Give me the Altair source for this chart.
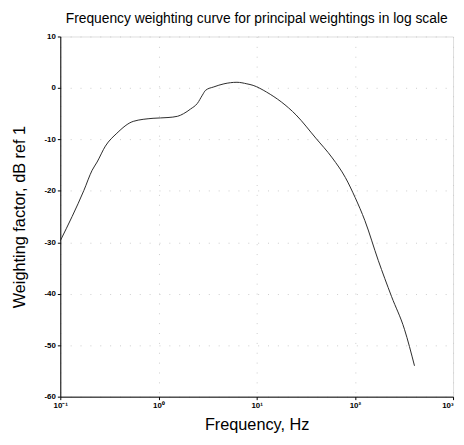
import altair as alt
import pandas as pd

# Frequency (Hz) and weighting factor (dB ref 1)
freq_hz = [0.1, 0.174, 0.211, 0.237, 0.288, 0.377, 0.553, 0.88, 1.25, 1.57,
           1.8, 2.12, 2.49, 2.8, 3.02, 3.66, 4.64, 6.3, 7.95, 9.2, 12.6,
           25.2, 40, 58.9, 80, 100.7, 126.6, 173, 236, 320, 405]
weight_db = [-29.7, -19.9, -16.0, -14.4, -11.3, -8.8, -6.5, -5.9, -5.75, -5.5,
             -5.0, -4.1, -3.0, -1.4, -0.45, 0.2, 0.8, 1.1, 0.8, 0.5, -0.8,
             -5.25, -9.75, -13.6, -17.4, -21.3, -25.8, -33.5, -40.5, -46.9, -54.0]

x_ticks = [0.1, 1, 10, 100, 1000]
y_ticks = [10, 0, -10, -20, -30, -40, -50, -60]

df = pd.DataFrame({"f": freq_hz, "w": weight_db})

FONT = "Liberation Sans"

chart = alt.Chart(df).mark_line(
    color="#2a2a2a", strokeWidth=1.0, interpolate="monotone"
).encode(
    x=alt.X(
        "f:Q",
        scale=alt.Scale(type="log", domain=[0.1, 1000], nice=False),
        axis=alt.Axis(
            values=x_ticks,
            title="Frequency,  Hz",
            labelExpr="['10\u207b\u00b9','10\u2070','10\u00b9','10\u00b2','10\u00b3'][round(log(datum.value)/LN10)+1]",
            labelAlign={"condition": {"test": "datum.value >= 1000", "value": "right"}, "value": "center"},
            labelFontSize=8,
            labelFontWeight="bold",
            labelPadding=2,
            tickSize=3,
            titleFontSize=16.5,
            titleFontWeight="normal",
            titlePadding=7,
            grid=True,
            gridDash=[1, 9],
            gridColor="#cccccc",
            domainColor="black",
            tickColor="black",
            labelColor="black",
            titleColor="black",
            labelFlush=False,
        ),
    ),
    y=alt.Y(
        "w:Q",
        scale=alt.Scale(domain=[-60, 10], nice=False),
        axis=alt.Axis(
            values=y_ticks,
            title="Weighting factor,  dB  ref  1",
            labelExpr="datum.value < 0 ? '-' + abs(datum.value) : '' + datum.value",
            labelFontSize=8,
            labelFontWeight="bold",
            labelPadding=2,
            tickSize=3,
            titleFontSize=16.5,
            titleFontWeight="normal",
            titlePadding=17,
            grid=True,
            gridDash=[1, 9],
            gridColor="#cccccc",
            domainColor="black",
            tickColor="black",
            labelColor="black",
            titleColor="black",
        ),
    ),
).properties(
    width=398,
    height=365,
    title=alt.TitleParams(
        "Frequency weighting curve for principal weightings in log scale",
        fontSize=14,
        fontWeight="normal",
        font=FONT,
        color="black",
        offset=7,
    ),
    autosize=alt.AutoSizeParams(type="none"),
    padding={"left": 53, "top": 26, "right": 3, "bottom": 38},
).configure_view(
    stroke="black", strokeWidth=1
).configure_axis(
    labelFont=FONT, titleFont=FONT
).configure(background="white")

chart.save("out.html", embed_options={"renderer": "svg", "actions": False})
